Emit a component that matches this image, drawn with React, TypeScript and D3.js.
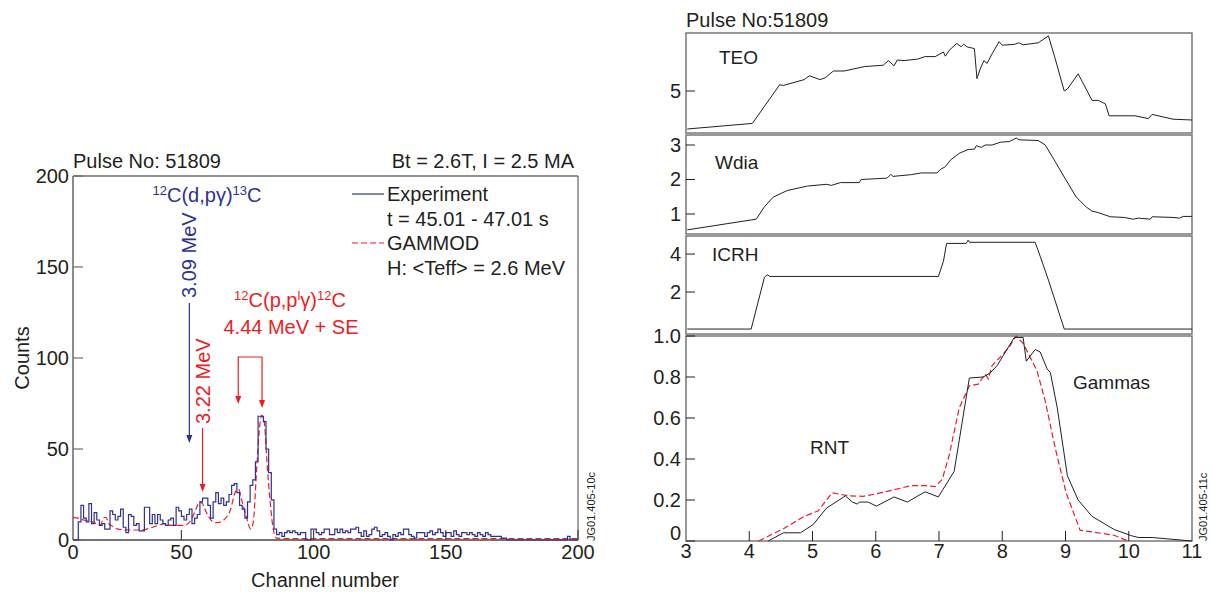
import React from 'react';
import * as d3 from 'd3';

const FONT = '"Liberation Sans", Arial, Helvetica, sans-serif';
const BLUE = '#2e3192';
const RED = '#ed1c24';
const INK = '#231f20';
const GRAY = '#6d6e71';

// ---------------- Left chart data ----------------
const channelStart = 9;
const channelEnd = 200;
const experimentCounts = [
  0, 0, 10, 19, 12, 10, 20, 9, 15, 11, 8, 9,
  6, 6, 16, 14, 11, 13, 17, 7, 4, 14,
  13, 8, 9, 5, 5, 18, 18, 9, 14, 9,
  14, 11, 9, 8, 11, 12, 8, 18, 16, 13,
  11, 14, 17, 9, 12, 14, 21, 23, 23, 19,
  12, 21, 26, 20, 23, 19, 21, 25, 30, 31,
  26, 19, 17, 12, 21, 30, 33, 43, 68, 68,
  65, 50, 37, 22, 6, 3, 4, 2, 4, 5,
  4, 5, 4, 3, 4, 4, 0, 0, 6, 6,
  4, 3, 4, 6, 6, 3, 3, 6, 4, 6,
  4, 5, 4, 6, 6, 7, 4, 2, 5, 2,
  3, 6, 7, 5, 2, 3, 4, 2, 0, 3,
  2, 4, 3, 6, 6, 3, 2, 1, 4, 4,
  4, 2, 4, 5, 3, 4, 6, 4, 2, 4,
  4, 2, 5, 3, 2, 4, 4, 3, 4, 3,
  2, 4, 3, 2, 4, 3, 2, 2, 2, 2,
  1, 1, 0, 0, 0, 0, 0, 0, 0, 0,
  0, 0, 0, 0, 0, 0, 0, 0, 0, 0,
  0, 0, 0, 0, 0, 2, 0, 0, 0,
];
const gammodChannels = [9, 11, 13, 15, 17, 18.5, 19.5, 20.5, 21.5, 22.5, 24, 26, 30, 35, 38, 40, 42, 44, 46, 48, 50, 52, 54, 55.5, 57, 58, 59.5, 61.5, 63.5, 66, 68.5, 70.3, 71.6, 72.8, 74.7, 76.2, 77.2, 78.5, 79.8, 80.4, 81.3, 82.5, 83.5, 84.8, 86, 90, 200];
const gammodCounts = [12.3, 12, 11, 10.5, 9.6, 8.5, 8.5, 12, 12.5, 9, 7.5, 6, 5.5, 5.5, 6.5, 7.5, 8.5, 9, 8, 8, 8, 8.5, 12, 17, 21, 20, 15, 10.5, 9.5, 11, 16.5, 26, 28, 22, 12, 6, 10, 40, 65, 68.5, 65, 40, 22, 5.5, 1, 0.8, 0.8];
const leftXTicks = [50, 100, 150, 200];
const leftYTicks = [0, 50, 100, 150, 200];

// ---------------- Right chart data ----------------
const teoTime = [3.02, 4.05, 4.48, 4.54, 4.87, 4.95, 5.12, 5.2, 5.33, 5.5, 5.82, 6.12, 6.2, 6.29, 6.34, 6.45, 6.67, 6.78, 6.94, 7.07, 7.1, 7.16, 7.28, 7.35, 7.39, 7.44, 7.56, 7.6, 7.65, 7.71, 7.76, 7.84, 7.95, 8.0, 8.19, 8.26, 8.33, 8.57, 8.73, 8.83, 8.98, 9.03, 9.2, 9.42, 9.52, 9.63, 9.69, 10.1, 10.31, 10.37, 10.7, 11.0];
const teoValue = [3.1, 3.38, 5.31, 5.28, 5.57, 5.76, 5.57, 5.66, 6.0, 6.0, 6.22, 6.29, 6.52, 6.26, 6.55, 6.52, 6.6, 6.72, 6.72, 6.95, 6.74, 7.03, 7.38, 7.21, 7.34, 7.21, 7.12, 5.62, 6.09, 6.52, 6.38, 6.86, 7.47, 7.29, 7.33, 7.41, 7.31, 7.41, 7.76, 6.69, 5.0, 5.1, 5.86, 4.53, 4.53, 4.36, 3.76, 3.76, 3.62, 3.83, 3.59, 3.55];
const wdiaTime = [3.02, 4.11, 4.24, 4.38, 4.6, 4.92, 5.22, 5.3, 5.44, 5.74, 5.77, 6.18, 6.24, 6.27, 6.56, 6.72, 6.97, 7.02, 7.1, 7.18, 7.32, 7.46, 7.56, 7.59, 7.67, 7.73, 7.84, 7.97, 8.11, 8.22, 8.27, 8.57, 8.68, 8.84, 8.98, 9.17, 9.33, 9.42, 9.5, 9.71, 9.93, 10.07, 10.15, 10.34, 10.37, 10.7, 10.8, 10.86, 11.0];
const wdiaValue = [0.54, 0.85, 1.21, 1.49, 1.68, 1.81, 1.86, 1.83, 1.91, 1.91, 2.0, 2.04, 2.15, 2.09, 2.14, 2.19, 2.19, 2.29, 2.37, 2.56, 2.76, 2.87, 2.88, 2.98, 2.93, 3.0, 3.0, 3.08, 3.1, 3.2, 3.15, 3.13, 3.0, 2.51, 2.07, 1.49, 1.2, 1.08, 1.05, 0.92, 0.9, 0.85, 0.88, 0.85, 0.92, 0.9, 0.88, 0.93, 0.93];
const icrhTime = [3.02, 4.03, 4.24, 4.28, 4.33, 6.99, 7.07, 7.12, 7.43, 7.46, 7.48, 8.52, 8.6, 8.73, 8.98, 11.0];
const icrhValue = [0.05, 0.05, 2.77, 2.91, 2.82, 2.82, 3.62, 4.56, 4.56, 4.73, 4.62, 4.62, 3.88, 2.63, 0.05, 0.05];
const rntTime = [4.3, 4.54, 4.81, 5.01, 5.22, 5.52, 5.63, 5.71, 5.74, 5.88, 6.01, 6.29, 6.5, 6.78, 6.99, 7.24, 7.48, 7.7, 7.81, 7.92, 8.19, 8.33, 8.38, 8.52, 8.6, 8.71, 8.76, 8.87, 9.03, 9.2, 9.42, 9.77, 10.04, 10.15, 10.37, 11.0];
const rntValue = [0, 0.04, 0.04, 0.08, 0.16, 0.22, 0.19, 0.18, 0.19, 0.19, 0.17, 0.215, 0.19, 0.24, 0.215, 0.34, 0.795, 0.8, 0.82, 0.856, 0.993, 0.993, 0.877, 0.934, 0.922, 0.839, 0.823, 0.649, 0.318, 0.2, 0.12, 0.056, 0.026, 0.017, 0.017, 0];
const gammaTime = [4.15, 4.33, 4.54, 4.87, 5.09, 5.31, 5.58, 5.8, 6.01, 6.29, 6.56, 6.78, 6.94, 7.05, 7.16, 7.32, 7.48, 7.62, 7.73, 7.78, 7.84, 7.97, 8.11, 8.22, 8.33, 8.44, 8.55, 8.68, 8.84, 9.01, 9.23, 9.77, 9.99];
const gammaValue = [0, 0.028, 0.06, 0.12, 0.147, 0.235, 0.22, 0.218, 0.23, 0.25, 0.27, 0.27, 0.265, 0.3, 0.417, 0.649, 0.757, 0.765, 0.815, 0.79, 0.856, 0.897, 0.947, 1.0, 0.964, 0.897, 0.83, 0.682, 0.45, 0.235, 0.053, 0.028, 0];
const timeTicks = [3, 4, 5, 6, 7, 8, 9, 10, 11];
const teoTicks = [5];
const wdiaTicks = [1, 2, 3];
const icrhTicks = [2, 4];
const rntTicks = [0, 0.2, 0.4, 0.6, 0.8, 1.0];

function Arrow({ x, y, color }: { x: number; y: number; color: string }) {
  return <path d={`M${x - 3},${y - 8} L${x + 3},${y - 8} L${x},${y} Z`} fill={color} />;
}

function LeftChart() {
  const x = d3.scaleLinear().domain([channelStart, channelEnd]).range([73, 578]);
  const y = d3.scaleLinear().domain([0, 200]).range([540, 176]);
  const histPts: [number, number][] = experimentCounts.map((c, i) => [channelStart + i, c]);
  histPts.push([channelEnd, experimentCounts[experimentCounts.length - 1]]);
  const hist = d3.line<[number, number]>().x(d => x(d[0])).y(d => y(d[1])).curve(d3.curveStepAfter)(histPts) || '';
  const gm = d3.line<number>().x((_, i) => x(gammodChannels[i])).y(d => y(d)).curve(d3.curveMonotoneX)(gammodCounts) || '';
  const x309 = x(53), x322 = x(58), xSE = x(71.5), xFE = x(80.5);
  return (
    <g fontFamily={FONT} fontSize={20} fill={INK}>
      <text x={73} y={168}>Pulse No: 51809</text>
      <text x={574} y={168} textAnchor="end">Bt = 2.6T, I = 2.5 MA</text>
      {/* box */}
      <line x1={73} x2={578} y1={176} y2={176} stroke={GRAY} strokeWidth={1.3} />
      <line x1={578} x2={578} y1={176} y2={540} stroke={GRAY} strokeWidth={1.3} />
      <line x1={73} x2={73} y1={176} y2={540} stroke={GRAY} strokeWidth={1.6} />
      <line x1={73} x2={578} y1={540} y2={540} stroke={'#444'} strokeWidth={1.4} />
      {leftYTicks.map(t => (
        <g key={t}>
          <line x1={73} x2={83} y1={y(t)} y2={y(t)} stroke={GRAY} strokeWidth={1.2} />
          <text x={69} y={y(t)} dy="0.35em" textAnchor="end">{t}</text>
        </g>
      ))}
      {leftXTicks.map(t => (
        <g key={t}>
          <line x1={x(t)} x2={x(t)} y1={540} y2={530} stroke={'#444'} strokeWidth={1.2} />
          <text x={x(t)} y={559} textAnchor="middle">{t}</text>
        </g>
      ))}
      <text x={73} y={559} textAnchor="middle">0</text>
      <text transform="translate(22,358) rotate(-90)" textAnchor="middle" dy="0.35em">Counts</text>
      <text x={325} y={587} textAnchor="middle">Channel number</text>

      {/* data */}
      <path d={gm} fill="none" stroke={RED} strokeWidth={1.2} strokeDasharray="6,3" />
      <path d={hist} fill="none" stroke={BLUE} strokeWidth={1.2} />

      {/* legend */}
      <line x1={352} x2={384} y1={194} y2={194} stroke={BLUE} strokeWidth={1.2} />
      <text x={387} y={201}>Experiment</text>
      <text x={387} y={226}>t = 45.01 - 47.01 s</text>
      <line x1={352} x2={384} y1={243} y2={243} stroke={RED} strokeWidth={1.2} strokeDasharray="6,3" />
      <text x={387} y={250}>GAMMOD</text>
      <text x={387} y={275}>H: &lt;Teff&gt; = 2.6 MeV</text>

      {/* annotations: 12C(d,pg)13C */}
      <text x={207} y={202} textAnchor="middle" fill={BLUE}>
        <tspan fontSize={13} dy={-7}>12</tspan>
        <tspan dy={7}>C(d,pγ)</tspan>
        <tspan fontSize={13} dy={-7}>13</tspan>
        <tspan dy={7}>C</tspan>
      </text>
      <text transform={`translate(${x309},298) rotate(-90)`} dy="0.35em" fill={BLUE}>3.09 MeV</text>
      <line x1={x309} x2={x309} y1={303} y2={437} stroke={BLUE} strokeWidth={1.2} />
      <Arrow x={x309} y={443} color={BLUE} />

      <text transform={`translate(${x322},424) rotate(-90)`} dy="0.35em" fill={RED}>3.22 MeV</text>
      <line x1={x322} x2={x322} y1={428} y2={486} stroke={RED} strokeWidth={1.2} />
      <Arrow x={x322} y={492} color={RED} />

      <text x={290} y={307} textAnchor="middle" fill={RED}>
        <tspan fontSize={13} dy={-7}>12</tspan>
        <tspan dy={7}>C(p,p</tspan>
        <tspan fontSize={13} dy={-7}>l</tspan>
        <tspan dy={7}>γ)</tspan>
        <tspan fontSize={13} dy={-7}>12</tspan>
        <tspan dy={7}>C</tspan>
      </text>
      <text x={291} y={334} textAnchor="middle" fill={RED}>4.44 MeV + SE</text>
      <polyline points={`${xSE},398 ${xSE},357 ${xFE},357 ${xFE},402`} fill="none" stroke={RED} strokeWidth={1.2} />
      <Arrow x={xSE} y={404} color={RED} />
      <Arrow x={xFE} y={408} color={RED} />

      <text transform="translate(591,541) rotate(-90)" dy="0.35em" fontSize={11}>JG01.405-10c</text>
    </g>
  );
}

type Panel = {
  top: number; bottom: number; domain: [number, number]; ticks: number[]; label: string;
  lx: number; ly: number;
};

function RightChart() {
  const x = d3.scaleLinear().domain([3, 11]).range([686, 1192]);
  const panels: Panel[] = [
    { top: 33, bottom: 133, domain: [2.9, 7.9], ticks: teoTicks, label: 'TEO', lx: 719, ly: 64 },
    { top: 135, bottom: 234, domain: [0.42, 3.29], ticks: wdiaTicks, label: 'Wdia', lx: 715, ly: 169 },
    { top: 236, bottom: 334, domain: [-0.21, 4.95], ticks: icrhTicks, label: 'ICRH', lx: 712, ly: 261 },
    { top: 336, bottom: 541, domain: [0, 1], ticks: rntTicks, label: '', lx: 0, ly: 0 },
  ];
  const ys = panels.map(p => d3.scaleLinear().domain(p.domain).range([p.bottom, p.top]));
  const mk = (ts: number[], vs: number[], yS: d3.ScaleLinear<number, number>) =>
    d3.line<number>().x((_, i) => x(ts[i])).y(d => yS(d))(vs) || '';
  return (
    <g fontFamily={FONT} fontSize={20} fill={INK}>
      <text x={686} y={27}>Pulse No:51809</text>
      {panels.map((p, k) => (
        <g key={k}>
          <rect x={686} y={p.top} width={1192 - 686} height={p.bottom - p.top} fill="none" stroke={GRAY} strokeWidth={1.4} />
          {p.ticks.map(t => {
            const ty = ys[k](t);
            const lab = k === 3 ? (t === 0 ? '0' : t.toFixed(1)) : String(t);
            const labY = k === 3 && t === 0 ? ty - 8 : ty;
            return (
              <g key={t}>
                <line x1={686} x2={695} y1={ty} y2={ty} stroke={INK} strokeWidth={1} />
                <text x={681} y={labY} dy="0.35em" textAnchor="end">{lab}</text>
              </g>
            );
          })}
          {p.label && <text x={p.lx} y={p.ly} fontSize={19}>{p.label}</text>}
        </g>
      ))}
      <path d={mk(teoTime, teoValue, ys[0])} fill="none" stroke={INK} strokeWidth={1} />
      <path d={mk(wdiaTime, wdiaValue, ys[1])} fill="none" stroke={INK} strokeWidth={1} />
      <path d={mk(icrhTime, icrhValue, ys[2])} fill="none" stroke={INK} strokeWidth={1} />
      <path d={mk(gammaTime, gammaValue, ys[3])} fill="none" stroke={RED} strokeWidth={1.2} strokeDasharray="6,3" />
      <path d={mk(rntTime, rntValue, ys[3])} fill="none" stroke={INK} strokeWidth={1} />
      {timeTicks.map(t => (
        <g key={t}>
          {t > 3 && t < 11 && <line x1={x(t)} x2={x(t)} y1={541} y2={531} stroke={INK} strokeWidth={1} />}
          <text x={x(t)} y={558} textAnchor="middle">{t}</text>
        </g>
      ))}
      <text x={810} y={454} fontSize={19}>RNT</text>
      <text x={1073} y={389} fontSize={19}>Gammas</text>
      <text transform="translate(1203,541) rotate(-90)" dy="0.35em" fontSize={11}>JG01.405-11c</text>
    </g>
  );
}

export default function App() {
  return (
    <svg width={1213} height={595} style={{ position: 'absolute', left: 0, top: 0, background: '#fff' }}>
      <rect width={1213} height={595} fill="#fff" />
      <LeftChart />
      <RightChart />
    </svg>
  );
}
